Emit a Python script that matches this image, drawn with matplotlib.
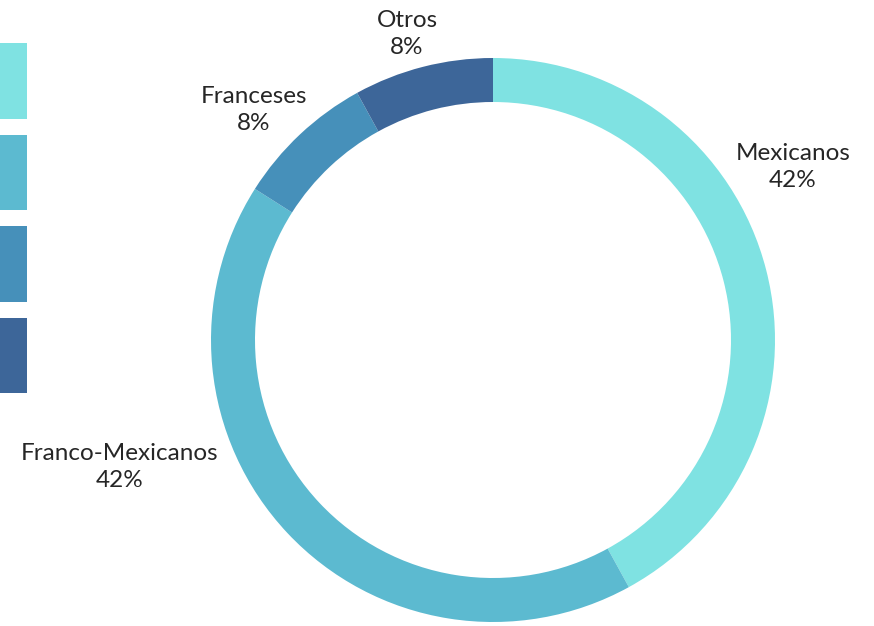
import matplotlib.pyplot as plt

categories = ["Mexicanos", "Franco-Mexicanos", "Franceses", "Otros"]
shares = [42, 42, 8, 8]
colors = ["#7fe2e2", "#5cbad0", "#4690ba", "#3d6699"]

# label block centres, pixels relative to the ring centre (x right, y up)
label_pos = [(300, 173), (-373, -127), (-239, 230), (-86, 306)]

W, H = 874, 626
cx, cy = 493, 286  # ring centre, pixels from bottom-left
R, ring = 282, 44

plt.rcParams['font.family'] = ['Lato', 'DejaVu Sans']

fig = plt.figure(figsize=(W / 100, H / 100), dpi=100)
ax = fig.add_axes([0, 0, 1, 1])

wedges, _ = ax.pie(shares, colors=colors, startangle=90, counterclock=False,
                   radius=R, wedgeprops=dict(width=ring, linewidth=0))
ax.set_xlim(-cx, W - cx)
ax.set_ylim(-cy, H - cy)
ax.set_aspect('equal')
ax.axis('off')

for name, val, (x, y) in zip(categories, shares, label_pos):
    ax.text(x, y, f"{name}\n{val}%", ha='center', va='center',
            fontsize=17.5, color='#262626', linespacing=1.38)

# legend squares only; the part beyond the left edge is cropped
fig.legend(wedges, [""] * len(categories), loc='upper right',
           bbox_to_anchor=(27 / W, 1 - 43 / H), frameon=False,
           fontsize=10, handlelength=8.0, handleheight=8.0,
           labelspacing=1.15, borderpad=0, borderaxespad=0,
           markerfirst=False, handletextpad=0)

fig.savefig("out.png", dpi=100, facecolor='white')
